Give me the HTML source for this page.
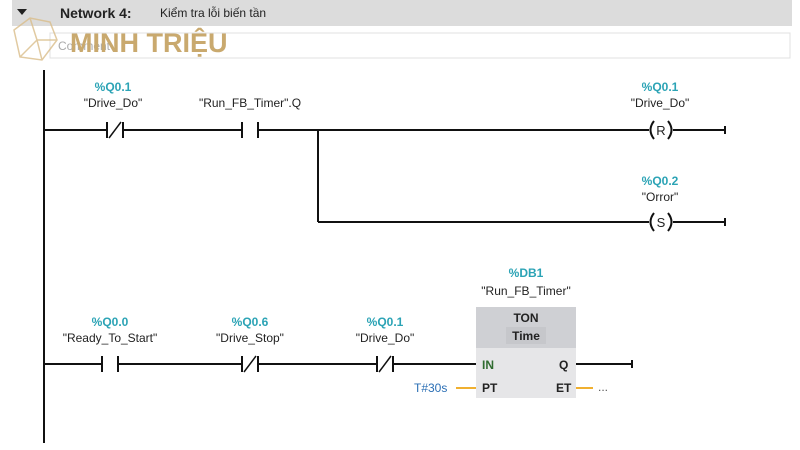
<!DOCTYPE html>
<html><head><meta charset="utf-8"><style>
html,body{margin:0;padding:0;background:#fff;}
svg{display:block;font-family:"Liberation Sans",sans-serif;}
.c{fill:#2ba3b5;font-size:12px;font-weight:bold;text-anchor:middle;}
.t{fill:#222;font-size:12px;text-anchor:middle;}
</style></head><body>
<svg width="800" height="450" viewBox="0 0 800 450" xmlns="http://www.w3.org/2000/svg">
<rect x="12" y="0" width="780" height="26" fill="#dcdcdc"/>
<path d="M17 9 L27 9 L22 15 Z" fill="#222"/>
<text x="60" y="18" font-size="14" font-weight="bold" fill="#222">Network 4:</text>
<text x="160" y="17" font-size="12" fill="#222">Kiểm tra lỗi biến tần</text>
<rect x="50" y="33" width="740" height="25" fill="#fff" stroke="#e0e0e0"/>
<text x="58" y="50" font-size="12" fill="#aaa">Comment</text>
<g stroke="#d9bd8a" fill="none" stroke-width="1.5" opacity="0.8"><path d="M14 30 L30 18 L50 22 L57 40 L42 60 L20 57 Z M30 18 L37 40 L57 40 M37 40 L20 57 M37 40 L42 60"/></g>
<text x="70" y="52" font-size="27" font-weight="bold" fill="#c9a96e">MINH TRIỆU</text>
<g stroke="#111" stroke-width="2" fill="none">
<line x1="44" y1="70" x2="44" y2="443"/>
<line x1="44" y1="130" x2="107" y2="130"/><line x1="123" y1="130" x2="242" y2="130"/>
<line x1="258" y1="130" x2="649" y2="130"/><line x1="673" y1="130" x2="725" y2="130"/>
<line x1="107" y1="122" x2="107" y2="138"/><line x1="123" y1="122" x2="123" y2="138"/><line x1="109" y1="138" x2="121" y2="122" stroke-width="1.5"/>
<line x1="242" y1="122" x2="242" y2="138"/><line x1="258" y1="122" x2="258" y2="138"/>
<line x1="318" y1="130" x2="318" y2="222"/><line x1="318" y1="222" x2="649" y2="222"/><line x1="673" y1="222" x2="725" y2="222"/>
<line x1="725" y1="126" x2="725" y2="134"/><line x1="725" y1="218" x2="725" y2="226"/>
<path d="M654 121 Q647 130 654 139"/><path d="M668 121 Q675 130 668 139"/>
<path d="M654 213 Q647 222 654 231"/><path d="M668 213 Q675 222 668 231"/>
<line x1="44" y1="364" x2="102" y2="364"/><line x1="118" y1="364" x2="242" y2="364"/>
<line x1="258" y1="364" x2="377" y2="364"/><line x1="393" y1="364" x2="476" y2="364"/>
<line x1="102" y1="356" x2="102" y2="372"/><line x1="118" y1="356" x2="118" y2="372"/>
<line x1="242" y1="356" x2="242" y2="372"/><line x1="258" y1="356" x2="258" y2="372"/><line x1="244" y1="372" x2="256" y2="356" stroke-width="1.5"/>
<line x1="377" y1="356" x2="377" y2="372"/><line x1="393" y1="356" x2="393" y2="372"/><line x1="379" y1="372" x2="391" y2="356" stroke-width="1.5"/>
<line x1="576" y1="364" x2="632" y2="364"/><line x1="632" y1="360" x2="632" y2="368"/>
</g>
<text x="661" y="135" font-size="13" text-anchor="middle" fill="#222">R</text>
<text x="661" y="227" font-size="13" text-anchor="middle" fill="#222">S</text>
<text class="c" x="113" y="91">%Q0.1</text><text class="t" x="113" y="107">"Drive_Do"</text>
<text class="t" x="250" y="107">"Run_FB_Timer".Q</text>
<text class="c" x="660" y="91">%Q0.1</text><text class="t" x="660" y="107">"Drive_Do"</text>
<text class="c" x="660" y="185">%Q0.2</text><text class="t" x="660" y="201">"Orror"</text>
<text class="c" x="110" y="326">%Q0.0</text><text class="t" x="110" y="342">"Ready_To_Start"</text>
<text class="c" x="250" y="326">%Q0.6</text><text class="t" x="250" y="342">"Drive_Stop"</text>
<text class="c" x="385" y="326">%Q0.1</text><text class="t" x="385" y="342">"Drive_Do"</text>
<text class="c" x="526" y="277">%DB1</text><text class="t" x="526" y="295">"Run_FB_Timer"</text>
<rect x="476" y="307" width="100" height="91" fill="#e6e6e8"/>
<rect x="476" y="307" width="100" height="41" fill="#cfd0d4"/>
<rect x="506" y="327" width="40" height="17" fill="#c6c7cb"/>
<text x="526" y="322" font-size="12" font-weight="bold" text-anchor="middle" fill="#222">TON</text>
<text x="526" y="340" font-size="12" font-weight="bold" text-anchor="middle" fill="#222">Time</text>
<text x="482" y="369" font-size="12" font-weight="bold" fill="#2f6b2f">IN</text>
<text x="559" y="369" font-size="12" font-weight="bold" fill="#222">Q</text>
<text x="482" y="392" font-size="12" font-weight="bold" fill="#222">PT</text>
<text x="556" y="392" font-size="12" font-weight="bold" fill="#222">ET</text>
<line x1="456" y1="388" x2="476" y2="388" stroke="#f0b030" stroke-width="2"/>
<line x1="576" y1="388" x2="593" y2="388" stroke="#f0b030" stroke-width="2"/>
<text x="414" y="392" font-size="12" fill="#2b6fb5">T#30s</text>
<text x="598" y="391" font-size="12" fill="#555">...</text>
</svg>
</body></html>
